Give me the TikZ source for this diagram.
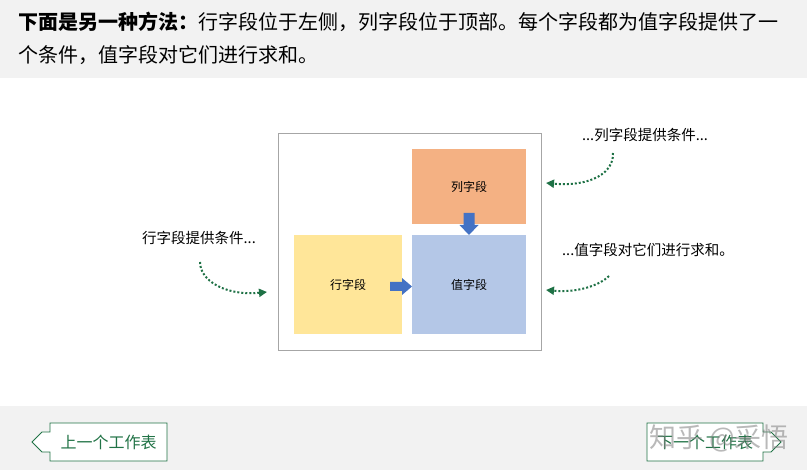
\documentclass[tikz,border=0pt]{standalone}
\usepackage{fontspec}
\setmainfont{Noto Sans CJK SC}
\usetikzlibrary{arrows.meta}
\definecolor{bandgray}{HTML}{F2F2F2}
\definecolor{xlgreen}{HTML}{217346}
\definecolor{dotgreen}{HTML}{1E7145}
\definecolor{orangebox}{HTML}{F4B183}
\definecolor{yellowbox}{HTML}{FFE699}
\definecolor{bluebox}{HTML}{B4C7E7}
\definecolor{arrowblue}{HTML}{4472C4}
\definecolor{framegray}{HTML}{A6A6A6}
\tikzset{
  label/.style={inner sep=0pt, font=\fontsize{14.5}{17}\selectfont, text=black},
  curvy/.style={draw=dotgreen, line width=2pt, dotted, -{Triangle[length=8pt,width=8pt,fill=dotgreen]}},
  btn/.style={draw=xlgreen, line width=0.9pt, fill=white},
  btntext/.style={inner sep=0pt, text=xlgreen, font=\fontsize{16}{18}\selectfont},
  blockarrow/.style={fill=arrowblue, draw=none},
  fieldbox/.style={minimum width=#1, inner sep=0pt, font=\fontsize{12}{14}\selectfont},
}
\begin{document}
\begin{tikzpicture}[x=1pt,y=-1pt]
\useasboundingbox (0,0) rectangle (807,470);
% bands
\fill[bandgray] (0,0) rectangle (807,78);
\fill[white] (0,78) rectangle (807,406);
\fill[bandgray] (0,406) rectangle (807,470);
% header text
\node[anchor=west, inner sep=0pt, font=\fontsize{20}{22}\selectfont] (h1) at (18,22)
  {\textbf{下面是另一种方法：}行字段位于左侧，列字段位于顶部。每个字段都为值字段提供了一};
\node[anchor=west, inner sep=0pt, font=\fontsize{20}{22}\selectfont] (h2) at (18,55)
  {个条件，值字段对它们进行求和。};
% frame
\node[draw=framegray, line width=0.8pt, fill=white, minimum width=263pt, minimum height=217pt, inner sep=0pt] (frame) at (409.5,241.5) {};
% boxes
\node[fill=orangebox, fieldbox=114pt, minimum height=75pt] (col) at (469,186.5) {列字段};
\node[fill=yellowbox, fieldbox=108pt, minimum height=99pt] (row) at (348,284.5) {行字段};
\node[fill=bluebox, fieldbox=114pt, minimum height=99pt] (val) at (469,284.5) {值字段};
% block arrows
\fill[blockarrow] (463.5,213) -- (474.5,213) -- (474.5,225) -- (478.5,225) -- (469,235) -- (459.5,225) -- (463.5,225) -- cycle;
\fill[blockarrow] (390,282) -- (402,282) -- (402,278) -- (412,286.5) -- (402,295) -- (402,291) -- (390,291) -- cycle;
% labels
\node[label] (lrow) at (199,238) {行字段提供条件...};
\node[label] (lcol) at (645,135) {...列字段提供条件...};
\node[label] (lval) at (648,250) {...值字段对它们进行求和。};
% dotted curved arrows
\coordinate (a1s) at (200,262);
\coordinate (a1e) at (267,292);
\coordinate (a2s) at (613,153);
\coordinate (a2e) at (546,183);
\coordinate (a3s) at (609,276);
\coordinate (a3e) at (546,290);
\draw[curvy] (a1s) .. controls (200,282) and (228,296) .. (a1e);
\draw[curvy] (a2s) .. controls (614,172) and (592,187) .. (a2e);
\draw[curvy] (a3s) .. controls (600,285) and (578,293) .. (a3e);
% buttons
\draw[btn] (50,423) -- (50,432) -- (42,432) -- (32,442) -- (42,452) -- (50,452) -- (50,461) -- (167,461) -- (167,423) -- cycle;
\node[btntext] (prev) at (108.5,442) {上一个工作表};
\draw[btn] (763,423) -- (763,432) -- (771,432) -- (781,442) -- (771,452) -- (763,452) -- (763,461) -- (647,461) -- (647,423) -- cycle;
\node[btntext] (next) at (705,442) {下一个工作表};
% watermark
\node[inner sep=0pt, text=gray, opacity=0.55, font=\fontsize{27}{30}\selectfont] (wm) at (719,438) {知乎 @采悟};
\end{tikzpicture}
\end{document}
